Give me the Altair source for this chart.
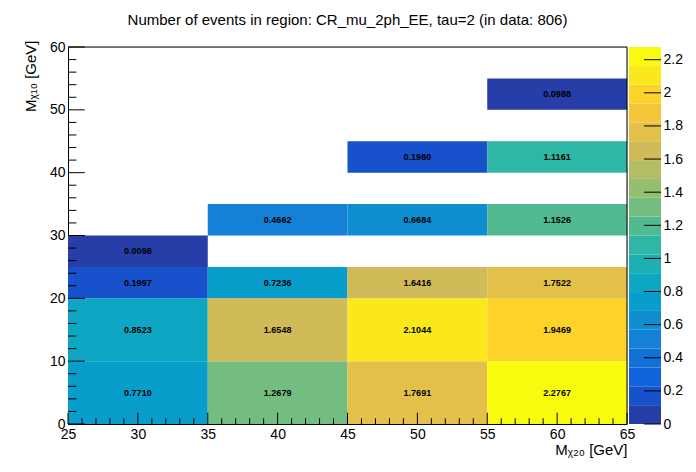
import altair as alt
import pandas as pd
import numpy as np

# ---- data ----
x_lo = [25, 35, 45, 55, 25, 35, 45, 55, 25, 35, 45, 55, 25, 35, 45, 55, 45, 55, 55]
x_hi = [35, 45, 55, 65, 35, 45, 55, 65, 35, 45, 55, 65, 35, 45, 55, 65, 55, 65, 65]
y_lo = [0, 0, 0, 0, 10, 10, 10, 10, 20, 20, 20, 20, 25, 30, 30, 30, 40, 40, 50]
y_hi = [10, 10, 10, 10, 20, 20, 20, 20, 25, 25, 25, 25, 30, 35, 35, 35, 45, 45, 55]
values = [0.7710, 1.2679, 1.7691, 2.2767, 0.8523, 1.6548, 2.1044, 1.9469,
          0.1997, 0.7236, 1.6416, 1.7522, 0.0098, 0.4662, 0.6684, 1.1526,
          0.1980, 1.1161, 0.0988]

x_major = [25, 30, 35, 40, 45, 50, 55, 60, 65]
y_major = [0, 10, 20, 30, 40, 50, 60]
z_ticks = [0, 0.2, 0.4, 0.6, 0.8, 1, 1.2, 1.4, 1.6, 1.8, 2, 2.2]
z_max = 2.2767
n_bands = 20

title_text = "Number of events in region: CR_mu_2ph_EE, tau=2 (in data: 806)"
x_title = "M\u1D6A\u2082\u2080 [GeV]"
y_title = "M\u1D6A\u2081\u2080 [GeV]"

# ---- palette (ROOT kBird, 20 contour bands) ----
bird_stops = [0.0, 0.125, 0.25, 0.375, 0.5, 0.625, 0.75, 0.875, 1.0]
bird_r = [0.2082, 0.0592, 0.0780, 0.0232, 0.1802, 0.5301, 0.8186, 0.9956, 0.9764]
bird_g = [0.1664, 0.3599, 0.5041, 0.6419, 0.7178, 0.7492, 0.7328, 0.7862, 0.9832]
bird_b = [0.5293, 0.8684, 0.8385, 0.7914, 0.6425, 0.4662, 0.3499, 0.1968, 0.0539]
band_colors = []
for k in range(n_bands):
    f = int((k + 0.99) * 255 / n_bands) / 254.0
    r = np.interp(f, bird_stops, bird_r)
    g = np.interp(f, bird_stops, bird_g)
    b = np.interp(f, bird_stops, bird_b)
    band_colors.append("#%02x%02x%02x" % (int(round(r * 255)), int(round(g * 255)), int(round(b * 255))))

x_minor = [v for v in range(25, 66) if v % 5 != 0]
y_minor = [v for v in range(0, 61, 2) if v % 10 != 0]

FONT = "Liberation Sans"
W, H = 559, 377

cells = pd.DataFrame(dict(x0=x_lo, x1=x_hi, y0=y_lo, y1=y_hi, v=values))
cells["xc"] = (cells.x0 + cells.x1) / 2
cells["yc"] = (cells.y0 + cells.y1) / 2
cells["label"] = ["%.4f" % v for v in values]

xs = alt.Scale(domain=[25, 65], nice=False, zero=False)
ys = alt.Scale(domain=[0, 60], nice=False, zero=False)

rect = alt.Chart(cells).mark_rect(strokeWidth=0).encode(
    x=alt.X("x0:Q", scale=xs, axis=alt.Axis(
        values=x_major, format="d", ticks=False, domain=True, domainColor="black", grid=False,
        labelPadding=3, labelFlush=False, labelOverlap=False,
        labelFontSize=14, labelFont=FONT, labelColor="black",
        title=x_title, titleFont=FONT, titleFontSize=15, titleFontWeight="normal",
        titleX=W, titleY=30, titleAlign="right", titleBaseline="alphabetic",
        titleColor="black")),
    x2="x1:Q",
    y=alt.Y("y0:Q", scale=ys, axis=alt.Axis(
        values=y_major, format="d", ticks=False, domain=True, domainColor="black", grid=False,
        labelPadding=3, labelFlush=False, labelOverlap=False,
        labelFontSize=14, labelFont=FONT, labelColor="black",
        title=y_title, titleFont=FONT, titleFontSize=15, titleFontWeight="normal",
        titleX=-33, titleY=-7, titleAngle=270, titleAlign="right",
        titleBaseline="alphabetic", titleColor="black")),
    y2="y1:Q",
    color=alt.Color("v:Q", scale=alt.Scale(type="quantize", domain=[0, z_max], range=band_colors),
                    legend=None),
)

text = alt.Chart(cells).mark_text(fontSize=9, fontWeight="bold", font=FONT, color="black").encode(
    x=alt.X("xc:Q", scale=xs, axis=None),
    y=alt.Y("yc:Q", scale=ys, axis=None),
    text="label:N",
)

def xticks(vals, length):
    return alt.Chart(pd.DataFrame({"t": vals})).mark_rule(color="black", strokeWidth=1).encode(
        x=alt.X("t:Q", scale=xs, axis=None), y=alt.value(H), y2=alt.value(H - length))

def yticks(vals, length):
    return alt.Chart(pd.DataFrame({"t": vals})).mark_rule(color="black", strokeWidth=1).encode(
        y=alt.Y("t:Q", scale=ys, axis=None), x=alt.value(0), x2=alt.value(length))

# frame: top and right edges of the plot box
frame_top = alt.Chart(pd.DataFrame({"t": [60]})).mark_rule(color="black", strokeWidth=1).encode(
    y=alt.Y("t:Q", scale=ys, axis=None), x=alt.value(0), x2=alt.value(W))
frame_right = alt.Chart(pd.DataFrame({"t": [65]})).mark_rule(color="black", strokeWidth=1).encode(
    x=alt.X("t:Q", scale=xs, axis=None), y=alt.value(0), y2=alt.value(H))

# ---- colour bar ----
cb = pd.DataFrame({
    "lo": [k * z_max / n_bands for k in range(n_bands)],
    "hi": [(k + 1) * z_max / n_bands for k in range(n_bands)],
    "color": band_colors,
    "c0": 0.0, "c1": 1.0,
})
cbx = alt.Scale(domain=[0, 1], range=[W + 2, W + 34])
cby = alt.Scale(domain=[0, z_max], nice=False, zero=False)

cbrect = alt.Chart(cb).mark_rect(strokeWidth=0).encode(
    x=alt.X("c0:Q", scale=cbx, axis=None),
    x2="c1:Q",
    y=alt.Y("lo:Q", scale=cby, axis=alt.Axis(
        orient="right", offset=34, values=z_ticks, format="~g", ticks=False,
        domain=False, grid=False, labelPadding=2, labelFlush=False, labelOverlap=False,
        labelFontSize=14, labelFont=FONT, labelColor="black", title=None)),
    y2="hi:Q",
    color=alt.Color("color:N", scale=None),
)
cbt = pd.DataFrame({"t": z_ticks, "a": 0.47, "b": 1.0})
cbticks = alt.Chart(cbt).mark_rule(color="black", strokeWidth=1).encode(
    y=alt.Y("t:Q", scale=cby, axis=None),
    x=alt.X("a:Q", scale=cbx, axis=None),
    x2="b:Q",
)

chart = alt.layer(
    rect, text, xticks(x_major, 11.3), xticks(x_minor, 5.7),
    yticks(y_major, 16.8), yticks(y_minor, 8.4), frame_top, frame_right,
    cbrect, cbticks
).resolve_scale(
    x="independent", y="independent", color="independent"
).properties(
    width=W, height=H,
    title=alt.TitleParams(title_text, font=FONT, fontSize=15, fontWeight="normal",
                          anchor="middle", color="black", dy=-8),
    autosize=alt.AutoSizeParams(type="none"),
    padding={"left": 60, "top": 39, "right": 60, "bottom": 45},
).configure_view(stroke="black", strokeWidth=1).configure(background="white")

chart.save("out.html", embed_options={"renderer": "svg", "actions": False})
